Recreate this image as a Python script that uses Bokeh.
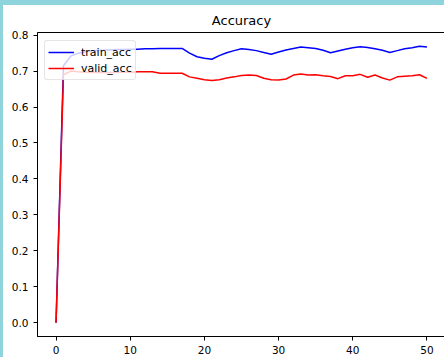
from bokeh.plotting import figure
from bokeh.models import Range1d, FixedTicker, PrintfTickFormatter, Legend, LegendItem
from bokeh.embed import file_html
from bokeh.resources import INLINE

epochs = list(range(51))
train_acc = [0.0, 0.715, 0.742, 0.750, 0.754, 0.757, 0.758, 0.759, 0.760, 0.760,
             0.761, 0.761, 0.762, 0.762, 0.763, 0.763, 0.763, 0.763, 0.750, 0.740,
             0.736, 0.733, 0.743, 0.751, 0.757, 0.762, 0.760, 0.757, 0.752, 0.747,
             0.753, 0.759, 0.763, 0.767, 0.765, 0.763, 0.758, 0.751, 0.756, 0.761,
             0.765, 0.768, 0.766, 0.762, 0.758, 0.752, 0.757, 0.762, 0.765, 0.769,
             0.767]
valid_acc = [0.0, 0.690, 0.700, 0.698, 0.697, 0.696, 0.696, 0.696, 0.696, 0.697,
             0.697, 0.698, 0.698, 0.698, 0.694, 0.694, 0.694, 0.694, 0.684, 0.680,
             0.676, 0.674, 0.676, 0.681, 0.684, 0.688, 0.689, 0.688, 0.680, 0.676,
             0.675, 0.678, 0.689, 0.692, 0.689, 0.690, 0.687, 0.685, 0.679, 0.687,
             0.687, 0.691, 0.683, 0.689, 0.681, 0.675, 0.684, 0.686, 0.687, 0.690,
             0.680]
x_ticks = [0, 10, 20, 30, 40, 50]
y_ticks = [0.0, 0.1, 0.2, 0.3, 0.4, 0.5, 0.6, 0.7, 0.8]
title_text = "Accuracy"
series_labels = ["train_acc", "valid_acc"]

FONT = "DejaVu Sans"

xmin, xmax = min(epochs), max(epochs)
ymin = min(min(train_acc), min(valid_acc))
ymax = max(max(train_acc), max(valid_acc))
xpad = (xmax - xmin) * 0.05
ypad = (ymax - ymin) * 0.05

p = figure(width=444, height=357, output_backend="svg", toolbar_location=None,
           x_range=Range1d(xmin - xpad, xmax + xpad),
           y_range=Range1d(ymin - ypad, ymax + ypad),
           min_border_left=34, min_border_right=2, min_border_top=27, min_border_bottom=26)
p.styles = {"border-left": "3px solid #8fd3dc", "border-top": "5px solid #8fd3dc"}

p.title.text = title_text
p.title.align = "center"
p.title.text_font = FONT
p.title.text_font_size = "13px"
p.title.text_font_style = "normal"
p.title.text_color = "black"

p.grid.visible = False
p.outline_line_color = "black"
p.outline_line_width = 1
p.background_fill_color = "white"
p.border_fill_color = "white"

for ax in (p.xaxis[0], p.yaxis[0]):
    ax.axis_line_color = "black"
    ax.major_tick_line_color = "black"
    ax.major_tick_out = 4
    ax.major_tick_in = 0
    ax.minor_tick_line_color = None
    ax.major_label_text_font = FONT
    ax.major_label_text_font_size = "10.5px"
    ax.major_label_text_color = "black"
    ax.major_label_standoff = 5

p.xaxis[0].ticker = FixedTicker(ticks=x_ticks)
p.xaxis[0].formatter = PrintfTickFormatter(format="%d")
p.yaxis[0].ticker = FixedTicker(ticks=y_ticks)
p.yaxis[0].formatter = PrintfTickFormatter(format="%.1f")

r1 = p.line(epochs, train_acc, line_color="#0000ff", line_width=1.5)
r2 = p.line(epochs, valid_acc, line_color="#ff0000", line_width=1.5)

legend = Legend(items=[LegendItem(label=series_labels[0], renderers=[r1]),
                       LegendItem(label=series_labels[1], renderers=[r2])],
                location=(7, 256), orientation="vertical")
legend.padding = 3
legend.spacing = 0
legend.margin = 0
legend.glyph_width = 26
legend.glyph_height = 16
legend.label_height = 16
legend.label_standoff = 7
legend.label_text_font = FONT
legend.label_text_font_size = "11px"
legend.label_text_color = "black"
legend.border_line_color = "#cccccc"
legend.border_line_width = 1
legend.border_radius = 3
legend.background_fill_color = "white"
legend.background_fill_alpha = 0.8
p.add_layout(legend, "center")

open("out.html", "w").write(file_html(p, INLINE))
